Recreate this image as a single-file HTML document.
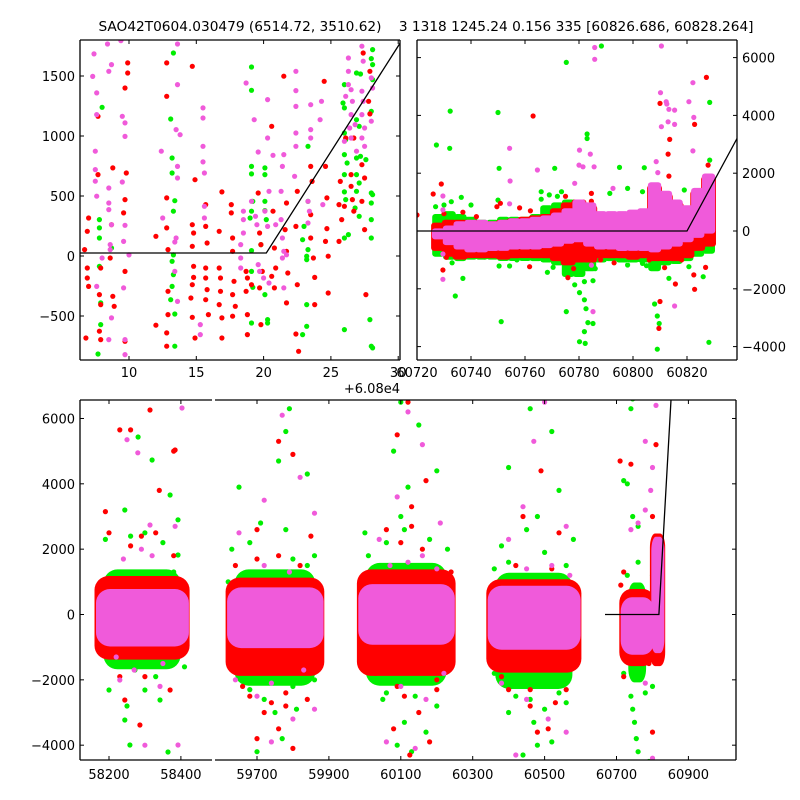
<!DOCTYPE html>
<html><head><meta charset="utf-8"><style>
html,body{margin:0;padding:0;background:#fff;}
svg{display:block;font-family:"DejaVu Sans","Liberation Sans",sans-serif;}
text{font-size:13px;fill:#000;white-space:pre;}
</style></head><body>
<svg id="chart" width="800" height="800" viewBox="0 0 800 800" xmlns="http://www.w3.org/2000/svg">
<defs>
<clipPath id="cTL"><rect x="80" y="40" width="320" height="320"/></clipPath>
<clipPath id="cTR"><rect x="417" y="40" width="320" height="320"/></clipPath>
<clipPath id="cB1"><rect x="80" y="400" width="132" height="360"/></clipPath>
<clipPath id="cB2"><rect x="215" y="400" width="521" height="360"/></clipPath>
</defs>
<text x="426" y="31" text-anchor="middle" xml:space="preserve" style="font-size:13.7px">SAO42T0604.030479 (6514.72, 3510.62)    3 1318 1245.24 0.156 335 [60826.686, 60828.264]</text>
</svg>
<script>
// ---------- top-left panel data (x offset from 60800, y) ----------
const tlRed = [7.0,317,6.9,206,6.7,53,6.9,-100,6.9,-183,7.0,-253,7.7,678,7.7,1164,7.8,-322,7.9,-405,7.8,-627,7.9,-697,8.6,-17,8.7,261,8.8,-336,8.9,-419,8.8,734,9.9,1609,9.9,1525,9.7,1400,9.8,692,9.7,470,9.7,-128,9.7,-711,9.6,359,6.8,-683,7.9,-100,12.8,1609,12.8,1331,12.8,484,12.8,234,12.9,53,12.9,-294,12.9,-488,12.8,-641,12.8,-752,12.0,164,12.0,-577,14.7,1581,14.9,636,14.7,261,14.8,192,14.7,81,14.8,-86,14.8,-178,14.7,-239,14.6,-350,14.7,-511,14.9,-683,15.7,428,15.7,247,15.8,108,15.7,-100,15.7,-183,15.8,-280,15.7,-364,15.9,-488,16.7,206,16.7,-100,16.8,-183,16.8,-294,16.7,-405,16.9,-516,16.9,-683,16.9,534,17.6,428,17.6,359,17.7,150,17.7,39,17.8,-211,17.7,-322,17.9,-419,17.7,-502,18.7,-128,18.8,-183,18.7,-294,18.8,-488,18.8,-655,19.6,525,19.7,192,19.8,95,19.9,-128,19.7,-266,19.8,-572,20.6,1081,20.7,373,20.8,67,20.9,-100,20.8,-266,21.5,1498,21.7,442,21.6,220,21.7,39,21.8,-142,21.7,-391,22.4,247,22.5,539,22.5,-239,22.4,-650,22.6,-794,23.5,747,23.6,622,23.5,345,23.5,150,23.7,-17,23.8,-178,23.8,-405,24.5,1456,24.6,747,24.7,484,24.7,228,24.6,122,24.8,-2,24.8,-308,25.6,428,25.7,622,25.6,122,25.8,303,26.5,678,26.5,581,26.6,470,26.7,373,26.7,983,27.3,761,27.5,650,27.3,456,27.5,220,27.6,-322,27.8,1289,27.9,1539,27.9,1184,27.4,1692,26.1,983,26.0,414,20.6,-169,19.1,-239];
const tlPink = [7.4,1684,7.3,1497,8.7,1595,8.5,1539,7.6,1359,7.6,1178,7.5,873,7.5,720,7.5,623,7.6,498,8.5,567,8.5,442,8.5,387,8.7,261,8.6,95,8.6,53,8.0,-17,7.6,-253,8.7,-516,8.5,-697,9.7,-697,9.5,1164,9.7,1109,9.7,997,9.5,617,9.7,256,9.6,122,10.0,9,9.6,-266,9.7,-822,8.4,1767,9.4,1795,13.6,1767,13.6,1428,13.5,1053,13.8,1011,12.4,873,13.6,747,13.6,650,12.5,317,13.5,150,13.4,117,13.4,-128,13.6,-378,15.5,1234,15.5,1150,15.5,914,15.5,784,15.6,692,15.6,414,15.6,317,15.3,-572,15.3,-655,18.7,1442,19.3,1136,20.3,1303,20.3,983,19.6,867,20.7,839,21.5,845,21.4,747,22.4,1539,22.4,1378,22.4,1247,22.4,1025,22.4,914,23.5,1261,23.5,1053,24.3,1289,24.2,1136,23.5,983,22.3,664,21.3,539,20.4,539,18.5,373,18.5,303,18.5,192,18.3,95,18.3,-17,18.3,-100,19.1,456,19.4,331,19.5,261,20.1,373,20.3,247,20.9,261,21.3,303,21.4,150,21.5,39,21.4,-17,21.7,10,19.6,-72,19.7,-128,20.0,-183,20.4,-225,21.5,-266,23.3,456,23.4,373,23.3,275,24.4,428,26.3,1650,26.3,1539,26.3,1428,26.1,1331,26.5,1386,26.6,1289,26.5,1178,26.4,1067,26.5,983,26.8,1095,27.3,1748,27.4,1623,27.3,1373,27.4,1289,27.3,1178,27.5,1067,27.3,983,27.5,914,26.9,873,26.0,956,28.0,1484,28.1,1400,28.0,1123,27.5,1817];
const tlGreen = [8.0,1239,7.8,303,7.8,234,7.8,150,8.7,67,7.8,-86,7.9,-391,7.9,-572,7.7,-817,13.3,1692,13.1,1142,13.2,817,13.2,692,13.4,461,13.3,373,13.3,9,13.2,-44,13.3,-155,13.2,-253,13.1,-364,13.4,-483,13.4,-752,19.1,1575,19.1,1381,19.1,747,19.1,684,20.1,734,20.1,678,19.2,456,19.1,373,19.0,317,20.1,456,20.1,378,20.2,303,19.1,45,19.1,-128,19.2,-261,20.1,-322,19.1,-558,20.3,-530,20.3,-558,19.8,95,23.3,914,23.3,456,23.0,247,22.9,136,23.3,53,23.2,-2,23.2,-30,23.2,-405,23.2,-586,22.9,-655,28.1,1720,28.0,1645,28.1,1595,26.9,1525,27.2,1517,28.1,1470,26.0,1428,25.9,1275,26.0,1234,26.0,1025,26.1,970,26.0,845,26.2,775,26.9,1136,27.1,1081,26.9,817,27.2,831,27.6,803,28.0,1206,26.0,678,26.9,678,27.1,608,26.0,534,26.1,470,26.0,150,26.3,178,26.9,539,26.8,400,27.1,331,28.0,525,28.1,511,28.0,442,28.0,303,28.0,150,27.9,-530,26.0,-613,28.0,-752,28.1,-766];
const tlLineX = [6.3,20.2,30.4];
const tlLineY = [25,25,1820];
const tlXTicks = [10,15,20,25,30];
const tlYTicks = [-500,0,500,1000,1500];

// ---------- top-right panel data ----------
const trX      = [60728,60732,60736,60740,60744,60748,60752,60756,60760,60764,60768,60772,60776,60780,60784,60788,60792,60796,60800,60804,60808,60812,60816,60820,60824,60828];
const trPinkHi = [0,100,250,300,300,250,300,350,350,400,450,550,700,1000,900,600,600,600,650,700,1600,1300,1000,800,1400,1900];
const trPinkLo = [-200,-400,-550,-650,-650,-600,-600,-550,-550,-550,-500,-450,-350,-300,-450,-550,-550,-600,-600,-600,-650,-550,-450,-300,-150,0];
const trRedHi  = [200,300,300,300,250,250,300,350,400,450,500,700,900,1000,800,500,500,500,600,650,1500,1200,900,700,1300,1800];
const trRedLo  = [-600,-800,-900,-850,-850,-850,-900,-850,-850,-850,-850,-950,-1100,-1000,-1000,-850,-850,-850,-900,-850,-950,-950,-950,-850,-600,-450];
const trGreenHi= [500,600,500,400,300,300,400,400,400,500,800,900,1000,900,800,500,500,500,600,650,1500,1200,900,700,1300,1800];
const trGreenLo= [-800,-900,-950,-900,-900,-900,-950,-950,-950,-950,-1000,-1100,-1500,-1500,-1300,-1000,-950,-1000,-1000,-1000,-1300,-1100,-1050,-950,-800,-700];
const trGreen = [60727.2,2975,60732.3,4150,60732.1,2860,60726.9,840,60730,900,60732.7,1015,60736.4,1165,60734.2,-2250,60737,-1640,60750,4100,60750.4,2170,60750,1070,60751.2,-3135,60754.3,-1210,60750.4,-1210,60766,1360,60771,2170,60770.4,-1257,60768.3,-1430,60775.3,5835,60783,3355,60783,3200,60773.5,1360,60780.2,-2133,60782,-1750,60778.4,-1860,60782,-2380,60782.6,-2690,60783.3,-3170,60782,-3480,60780.2,-3830,60782.3,-3890,60785.2,-3200,60775.3,-2790,60788.3,6400,60785.2,-1720,60795,2200,60798,1475,60803.5,1360,60804.2,2190,60798,-1176,60803.5,-1120,60808,-2525,60809,-2940,60809,-4090,60809.7,-3200,60813.3,-1637,60819,1420,60828.4,2455,60828.4,4450,60828.1,-3850,60826,-1580,60820.7,-1234,60828.4,-600,60806.8,1360,60791.4,1300,60766,1100,60769,1250,60772,1200,60778,1000,60775,-1300,60786,-1300,60800,-1000,60805,-1200,60745,-900,60757,-1000,60740,900,60733,-1100];
const trRed = [60720,553,60726,1280,60729,1626,60729.6,-1350,60730.9,-911,60734,-870,60763,3980,60749.6,840,60750.9,960,60761.7,-1234,60775.9,-1614,60784.6,1300,60784.6,1030,60810,4415,60810,-2440,60809.6,-3370,60813.6,3170,60813,2660,60813.3,1900,60815.7,-1833,60811.7,-1270,60827.2,5315,60822.8,3690,60827.8,2280,60822.8,-2018,60822.5,-1520,60826.9,-1260,60827.8,-330,60730,600,60737,650,60742,500,60758,800,60762,700,60775,1200,60778,-1300,60788,-1000,60793,-1100,60806,-1000,60818,-1000];
const trPink = [60785.8,6350,60785.8,5940,60810.5,6400,60810.2,4785,60810.5,3610,60812.3,4475,60812.5,4395,60813,3780,60813.3,4210,60815.4,4185,60815.4,3690,60820.7,4475,60822.2,5130,60822.5,3930,60822.2,2770,60780.2,2800,60780,2280,60781.5,2220,60784.2,2660,60785.6,2220,60778.4,1650,60764.6,2110,60754.3,2860,60754.5,1730,60754.3,940,60729.6,1210,60729.6,730,60729.6,-795,60729.6,-1670,60785.2,-2790,60784.6,-1180,60808.6,2400,60809.2,2020,60815.4,-2595,60792.6,1475];
const trLineX = [60720,60820,60838.5];
const trLineY = [0,0,3200];
const trXTicks = [60720,60740,60760,60780,60800,60820];
const trYTicks = [-4000,-2000,0,2000,4000,6000];

// ---------- bottom panel data ----------
const bStart  = [58167,59620,59985,60345,60715,60800];
const bEnd    = [58417,59880,60245,60595,60800,60828];
const bPinkHi = [700,750,850,800,450,2300];
const bPinkLo = [-900,-950,-850,-1000,-1150,-1100];
const bRedHi  = [1100,1050,1300,1000,700,2400];
const bRedLo  = [-1300,-1800,-1800,-1700,-1500,-1500];
const bGreenHi= [1300,1300,1500,1200,900,2400];
const bGreenLo= [-1600,-2100,-2100,-2200,-2000,-2000];
const bGreen = [58281,5433,58320,4729,58370,3658,58244,3199,58392,2900,58208,1056,58392,1821,58272,-1699,58342,-2617,58244,-3229,58258,-3994,58364,-4208,58300,-2310,58200,-2310,58410,-1600,58190,2300,58260,2400,58300,2500,58350,2200,58380,1300,58250,-2800,58330,-1900,
59790,6300,59780,5600,59650,3900,59840,4300,59710,2800,59860,1800,59760,4700,59640,-1500,59680,-2300,59770,-3800,59810,-2900,59860,-2000,59700,-4200,59750,-3000,59620,1000,59630,2000,59680,2200,59780,2600,59800,1700,59840,1500,59720,-2600,59800,-2200,
60100,6500,60150,5800,60080,5000,60200,4400,60120,3900,60000,2500,60230,2000,60050,-2600,60110,-3300,60170,-3600,60130,-4200,60200,-2800,60020,-1700,60090,-4000,60240,-1500,60010,1800,60060,2200,60100,3000,60110,2600,60180,2300,60060,-2400,60140,-2500,
60460,6300,60520,5600,60400,4500,60540,3800,60480,3000,60380,2100,60580,2300,60420,-2500,60470,-3300,60520,-3900,60440,-4300,60560,-2700,60360,-1800,60500,-2900,60590,-1500,60480,-4000,60360,1400,60400,1600,60450,2600,60500,1900,60560,1500,60400,-3000,60460,-2600,60540,-2400,
60745,6600,60740,6300,60720,4100,60730,4000,60760,2700,60745,3000,60720,-1800,60745,-2900,60750,-3300,60755,-3800,60760,-4200,60780,-2400,60740,-2500,60790,-4500,60800,-2200,60730,1200,60760,1600,60800,1200];
const bRed = [58314,6260,58384,5035,58230,5650,58260,5650,58244,-2617,58286,-3382,58370,-2310,58190,3150,58380,5000,58340,3800,58200,2500,58260,2100,58290,2400,58330,2500,58380,1800,58230,-1900,58300,-1900,
59800,4900,59760,5300,59700,2600,59850,2400,59660,-2200,59720,-3000,59760,-3500,59800,-4100,59840,-2600,59700,-3800,59740,-2700,59780,-2400,59640,1500,59870,-1400,59700,1700,59760,1800,59820,1500,59680,-2500,59780,-2800,
60120,6500,60090,5500,60170,4100,60130,3300,60060,2600,60110,-2500,60150,-3000,60080,-3500,60200,-2300,60030,-1800,60125,-4300,60180,-3900,60240,1300,60100,2200,60130,2700,60160,2000,60090,-2200,60200,-2000,
60490,4400,60440,3000,60540,2500,60400,-2300,60460,-2800,60510,-3500,60560,-2300,60480,-3600,60380,-1900,60590,-1200,60420,1500,60520,1400,60460,-2300,60530,-2700,
60710,4700,60740,4600,60810,5200,60800,3000,60720,-1900,60790,-1500,60800,-3600,60760,-1300,60712,900,60720,1300];
const bPink = [58403,6321,58314,2740,58384,2700,58230,-2004,58392,-3994,58300,-4000,58220,-1300,58342,-2200,58250,5350,58280,4950,58290,2000,58320,1800,58240,1700,58270,-1700,58350,-1500,
59770,6100,59720,3500,59820,4200,59860,3100,59650,2500,59700,-2500,59800,-3200,59860,-2900,59740,-3900,59640,-2000,59720,1500,59790,1300,59830,-1700,59740,-2100,
60120,6200,60160,5200,60090,3600,60210,2800,60040,2300,60100,-2200,60170,-2600,60060,-3900,60220,-1800,60140,-4100,60120,1600,60160,1800,60200,1400,60070,1500,
60500,6500,60470,5300,60440,3300,60560,2700,60400,2300,60450,-2600,60510,-3200,60560,-3600,60420,-4300,60380,-2100,60450,1400,60520,1500,60570,1200,
60810,6400,60780,5300,60800,4500,60795,3800,60780,3200,60760,2800,60740,2600,60780,-2100,60790,-1000,60800,-4400];
const bLineX = [60668,60818,60852];
const bLineY = [0,0,6620];
const b1XTicks = [58200,58400];
const b2XTicks = [59700,59900,60100,60300,60500,60700,60900];
const bYTicks = [-4000,-2000,0,2000,4000,6000];

const NS = 'http://www.w3.org/2000/svg';
const svg = document.getElementById('chart');
const COL = {green:'#00ee00', red:'#ff0000', pink:'#f05ada'};

const tlX = v => 129 + (v - 10) * 13.46, tlY = v => 256 - v * 0.12;
const trXs = v => 417 + (v - 60720) * 2.7, trYs = v => 231 - v * 0.0289;
const b1X = v => 109 + (v - 58200) * 0.3595, b2X = v => 257 + (v - 59700) * 0.3595;
const bY = v => 614.5 - v * 0.03267;

function group(clip){
  const g = document.createElementNS(NS,'g');
  if (clip) g.setAttribute('clip-path','url(#'+clip+')');
  svg.appendChild(g);
  return g;
}
function dots(g, arr, sx, sy, color, nm){
  for (let i = 0; i < arr.length; i += 2){
    const c = document.createElementNS(NS,'circle');
    c.setAttribute('cx', sx(arr[i]).toFixed(1));
    c.setAttribute('cy', sy(arr[i+1]).toFixed(1));
    c.setAttribute('r', 2.6);
    c.setAttribute('fill', color);
    
    
    g.appendChild(c);
  }
}
function band(g, sx, sy, x0, x1, lo, hi, color, nm, round){
  const r = document.createElementNS(NS,'rect');
  const xa = sx(x0) - 2.6, xb = sx(x1) + 2.6, ya = sy(hi) - 2.6, yb = sy(lo) + 2.6;
  r.setAttribute('x', xa.toFixed(1));
  r.setAttribute('y', ya.toFixed(1));
  r.setAttribute('width', (xb - xa).toFixed(1));
  r.setAttribute('height', (yb - ya).toFixed(1));
  r.setAttribute('rx', round ? Math.min(14, (xb-xa)/3).toFixed(1) : 3);
  r.setAttribute('ry', round ? Math.min(14, (yb-ya)/3).toFixed(1) : 3);
  r.setAttribute('fill', color);
  
  
  g.appendChild(r);
}
function polyline(g, xs, ys, sx, sy, nm){
  const p = document.createElementNS(NS,'polyline');
  p.setAttribute('points', xs.map((x,i)=>sx(x).toFixed(1)+','+sy(ys[i]).toFixed(1)).join(' '));
  p.setAttribute('fill','none');
  p.setAttribute('stroke','#000');
  p.setAttribute('stroke-width','1.3');
  
  
  g.appendChild(p);
}
function line(x1,y1,x2,y2,w,nm){
  const l = document.createElementNS(NS,'line');
  l.setAttribute('x1',x1); l.setAttribute('y1',y1); l.setAttribute('x2',x2); l.setAttribute('y2',y2);
  l.setAttribute('stroke','#000'); l.setAttribute('stroke-width',w);
  
  
  svg.appendChild(l);
}
function label(x,y,txt,anchor,nm){
  const t = document.createElementNS(NS,'text');
  t.setAttribute('x',x); t.setAttribute('y',y); t.setAttribute('text-anchor',anchor);
  t.textContent = txt;
  
  
  svg.appendChild(t);
}
const fmt = v => (v < 0 ? '\u2212' + Math.abs(v) : String(v));

let g = group('cTL');
dots(g, tlGreen, tlX, tlY, COL.green, 'tl-green-point');
dots(g, tlRed, tlX, tlY, COL.red, 'tl-red-point');
dots(g, tlPink, tlX, tlY, COL.pink, 'tl-pink-point');
polyline(g, tlLineX, tlLineY, tlX, tlY, 'tl-model-line');

g = group('cTR');
for (let i = 0; i < trX.length; i++) band(g, trXs, trYs, trX[i]-1.4, trX[i]+1.4, trGreenLo[i], trGreenHi[i], COL.green, 'tr-green-band', false);
dots(g, trGreen, trXs, trYs, COL.green, 'tr-green-point');
for (let i = 0; i < trX.length; i++) band(g, trXs, trYs, trX[i]-1.8, trX[i]+1.8, trRedLo[i], trRedHi[i], COL.red, 'tr-red-band', false);
dots(g, trRed, trXs, trYs, COL.red, 'tr-red-point');
for (let i = 0; i < trX.length; i++) band(g, trXs, trYs, trX[i]-1.5, trX[i]+1.5, trPinkLo[i], trPinkHi[i], COL.pink, 'tr-pink-band', false);
dots(g, trPink, trXs, trYs, COL.pink, 'tr-pink-point');
polyline(g, trLineX, trLineY, trXs, trYs, 'tr-model-line');

[['cB1', b1X], ['cB2', b2X]].forEach(([clip, sx]) => {
  const gg = group(clip);
  for (let i = 0; i < bStart.length; i++) band(gg, sx, bY, bStart[i]+25, bEnd[i]-25, bGreenLo[i], bGreenHi[i], COL.green, 'season-green-band', true);
  dots(gg, bGreen, sx, bY, COL.green, 'b-green-point');
  for (let i = 0; i < bStart.length; i++) band(gg, sx, bY, bStart[i], bEnd[i], bRedLo[i], bRedHi[i], COL.red, 'season-red-band', true);
  dots(gg, bRed, sx, bY, COL.red, 'b-red-point');
  for (let i = 0; i < bStart.length; i++) band(gg, sx, bY, bStart[i]+4, bEnd[i]-2, bPinkLo[i], bPinkHi[i], COL.pink, 'season-pink-band', true);
  dots(gg, bPink, sx, bY, COL.pink, 'b-pink-point');
  polyline(gg, bLineX, bLineY, sx, bY, 'b-model-line');
});

const fw = 1.3;
function frame(x0,y0,x1,y1,sides,nm){
  if (sides.includes('t')) line(x0,y0,x1,y0,fw,nm+'-top-spine');
  if (sides.includes('b')) line(x0,y1,x1,y1,fw,nm+'-bottom-spine');
  if (sides.includes('l')) line(x0,y0,x0,y1,fw,nm+'-left-spine');
  if (sides.includes('r')) line(x1,y0,x1,y1,fw,nm+'-right-spine');
}
frame(80,40,400,360,'tblr','tl');
frame(417,40,737,360,'tblr','tr');
frame(80,400,212,760,'tbl','b1');
frame(215,400,736,760,'tbr','b2');

tlXTicks.forEach(v => { const x = tlX(v); line(x,360,x,356,1,'tl-x-tick'); line(x,40,x,44,1,'tl-x-tick-top'); label(x,377,String(v),'middle','tl-x-tick-label'); });
tlYTicks.forEach(v => { const y = tlY(v); line(80,y,84,y,1,'tl-y-tick'); line(400,y,396,y,1,'tl-y-tick-right'); label(75,y+5,fmt(v),'end','tl-y-tick-label'); });
label(400,393,'+6.08e4','end','tl-x-offset-label');
trXTicks.forEach(v => { const x = trXs(v); line(x,360,x,356,1,'tr-x-tick'); line(x,40,x,44,1,'tr-x-tick-top'); label(x,377,String(v),'middle','tr-x-tick-label'); });
trYTicks.forEach(v => { const y = trYs(v); line(417,y,421,y,1,'tr-y-tick-left'); line(737,y,733,y,1,'tr-y-tick'); label(742,y+5,fmt(v),'start','tr-y-tick-label'); });
b1XTicks.forEach(v => { const x = b1X(v); line(x,760,x,756,1,'b1-x-tick'); line(x,400,x,404,1,'b1-x-tick-top'); label(x,779,String(v),'middle','b1-x-tick-label'); });
b2XTicks.forEach(v => { const x = b2X(v); line(x,760,x,756,1,'b2-x-tick'); line(x,400,x,404,1,'b2-x-tick-top'); label(x,779,String(v),'middle','b2-x-tick-label'); });
bYTicks.forEach(v => { const y = bY(v); line(80,y,84,y,1,'b-y-tick'); line(736,y,732,y,1,'b-y-tick-right'); label(75,y+5,fmt(v),'end','b-y-tick-label'); });
</script>
</body></html>
